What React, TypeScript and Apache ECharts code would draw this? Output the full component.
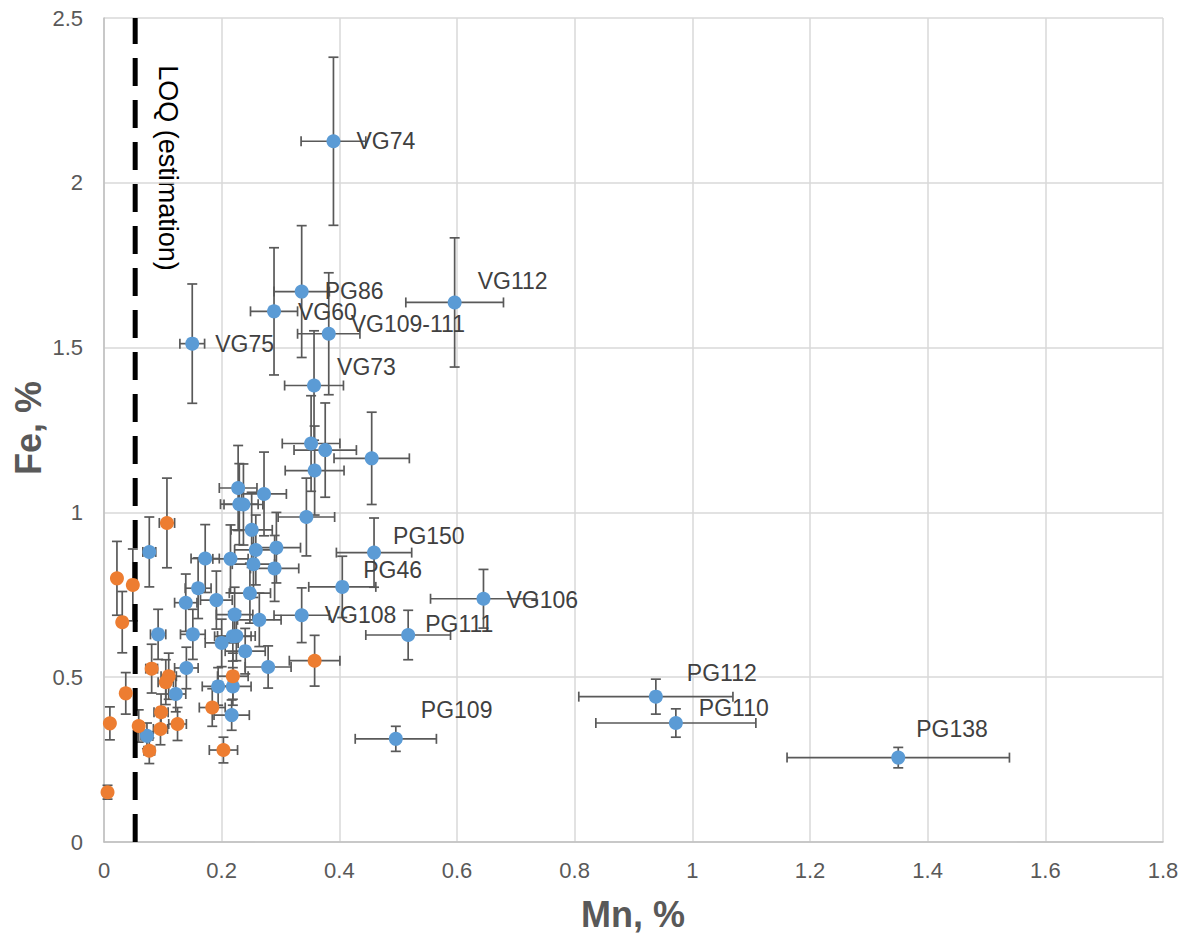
import React, { useEffect, useRef } from "react";
import * as echarts from "echarts";

// ---- Data ----
const xTicks = [0, 0.2, 0.4, 0.6, 0.8, 1, 1.2, 1.4, 1.6, 1.8];
const yTicks = [0, 0.5, 1, 1.5, 2, 2.5];
const LOQ = 0.053;

const blueLabels = [
  "VG74", "PG86", "VG60", "VG109-111", "VG112", "VG75", "VG73", "", "", "", "",
  "", "", "", "", "", "", "", "", "", "", "",
  "", "", "", "", "", "", "", "VG108", "PG150", "PG46", "",
  "", "", "", "", "", "", "", "", "", "", "",
  "", "", "VG106", "PG111", "PG112", "PG110", "PG138", "PG109",
];
const blueMn = [
  0.390, 0.336, 0.289, 0.382, 0.596, 0.150, 0.357, 0.352, 0.376, 0.358, 0.455,
  0.344, 0.228, 0.230, 0.237, 0.272, 0.251, 0.258, 0.293, 0.215, 0.172, 0.254,
  0.290, 0.160, 0.191, 0.139, 0.248, 0.222, 0.264, 0.336, 0.459, 0.405, 0.077,
  0.092, 0.151, 0.200, 0.219, 0.225, 0.240, 0.279, 0.140, 0.122, 0.194, 0.219,
  0.217, 0.073, 0.645, 0.517, 0.938, 0.972, 1.350, 0.496,
];
const blueFe = [
  2.126, 1.670, 1.610, 1.542, 1.637, 1.512, 1.385, 1.209, 1.189, 1.127, 1.164,
  0.986, 1.074, 1.025, 1.024, 1.056, 0.947, 0.886, 0.893, 0.859, 0.860, 0.843,
  0.830, 0.770, 0.734, 0.726, 0.755, 0.690, 0.674, 0.688, 0.878, 0.774, 0.880,
  0.630, 0.630, 0.604, 0.624, 0.625, 0.579, 0.531, 0.528, 0.449, 0.472, 0.472,
  0.385, 0.322, 0.738, 0.628, 0.441, 0.361, 0.256, 0.313,
];
const blueMnErr = [
  0.055, 0.047, 0.040, 0.053, 0.083, 0.021, 0.050, 0.049, 0.053, 0.050, 0.064,
  0.048, 0.032, 0.032, 0.033, 0.038, 0.035, 0.036, 0.041, 0.030, 0.024, 0.036,
  0.041, 0.022, 0.027, 0.019, 0.035, 0.031, 0.037, 0.047, 0.064, 0.057, 0.011,
  0.013, 0.021, 0.028, 0.031, 0.032, 0.034, 0.039, 0.020, 0.017, 0.027, 0.031,
  0.030, 0.010, 0.090, 0.072, 0.131, 0.136, 0.189, 0.069,
];
const blueFeErr = [
  0.255, 0.200, 0.193, 0.185, 0.196, 0.181, 0.166, 0.145, 0.143, 0.135, 0.140,
  0.118, 0.129, 0.123, 0.123, 0.127, 0.114, 0.106, 0.107, 0.103, 0.103, 0.101,
  0.100, 0.092, 0.088, 0.087, 0.091, 0.083, 0.081, 0.083, 0.105, 0.093, 0.106,
  0.076, 0.076, 0.072, 0.075, 0.075, 0.069, 0.064, 0.063, 0.054, 0.057, 0.057,
  0.046, 0.039, 0.089, 0.075, 0.053, 0.043, 0.031, 0.038,
];

const orangeMn = [
  0.107, 0.022, 0.049, 0.031, 0.358, 0.081, 0.110, 0.105, 0.037, 0.219,
  0.184, 0.097, 0.010, 0.059, 0.096, 0.125, 0.077, 0.203, 0.006,
];
const orangeFe = [
  0.968, 0.800, 0.780, 0.667, 0.550, 0.526, 0.503, 0.485, 0.451, 0.503,
  0.408, 0.394, 0.360, 0.352, 0.343, 0.358, 0.277, 0.279, 0.151,
];
const orangeMnErr = [
  0.013, 0.003, 0.006, 0.004, 0.043, 0.010, 0.013, 0.013, 0.004, 0.026,
  0.022, 0.012, 0.001, 0.007, 0.012, 0.015, 0.009, 0.024, 0.001,
];
const orangeFeErr = [
  0.136, 0.112, 0.109, 0.093, 0.077, 0.074, 0.070, 0.068, 0.063, 0.070,
  0.057, 0.055, 0.050, 0.049, 0.048, 0.050, 0.039, 0.039, 0.021,
];

// ---- label placement (pixel offsets from the marker centre to the label's left-middle) ----
const labelOffsets: Record<string, [number, number]> = {
  VG74: [23, 0],
  PG86: [23, -1],
  VG60: [24, 1],
  "VG109-111": [22, -10],
  VG112: [23, -21],
  VG75: [23, 0],
  VG73: [23, -19],
  PG150: [19, -17],
  PG46: [21, -17],
  VG106: [23, 1],
  VG108: [23, 0],
  PG111: [17, -11],
  PG112: [31, -24],
  PG110: [23, -15],
  PG138: [18, -29],
  PG109: [25, -29],
};

const FONT = '"Liberation Sans", Arial, sans-serif';
const BLUE = "#5b9bd5";
const ORANGE = "#ed7d31";
const ERR = "#595959";
const SYMBOL = 14;

function errRender(_params: any, api: any) {
  const x = api.value(0);
  const y = api.value(1);
  const ex = api.value(2);
  const ey = api.value(3);
  const l = api.coord([x - ex, y]);
  const r = api.coord([x + ex, y]);
  const t = api.coord([x, y + ey]);
  const b = api.coord([x, y - ey]);
  const c = 5;
  const style = { stroke: ERR, lineWidth: 1.7, fill: null };
  return {
    type: "group",
    children: [
      { type: "line", shape: { x1: l[0], y1: l[1], x2: r[0], y2: r[1] }, style },
      { type: "line", shape: { x1: l[0], y1: l[1] - c, x2: l[0], y2: l[1] + c }, style },
      { type: "line", shape: { x1: r[0], y1: r[1] - c, x2: r[0], y2: r[1] + c }, style },
      { type: "line", shape: { x1: t[0], y1: t[1], x2: b[0], y2: b[1] }, style },
      { type: "line", shape: { x1: t[0] - c, y1: t[1], x2: t[0] + c, y2: t[1] }, style },
      { type: "line", shape: { x1: b[0] - c, y1: b[1], x2: b[0] + c, y2: b[1] }, style },
    ],
  };
}

export default function App() {
  const ref = useRef<HTMLDivElement>(null);

  useEffect(() => {
    if (!ref.current) return;
    const chart = echarts.init(ref.current, null, { renderer: "svg" });

    const blueErrData = blueMn.map((x, i) => [x, blueFe[i], blueMnErr[i], blueFeErr[i]]);
    const orangeErrData = orangeMn.map((x, i) => [x, orangeFe[i], orangeMnErr[i], orangeFeErr[i]]);

    const blueData = blueMn.map((x, i) => {
      const name = blueLabels[i];
      if (!name) return { value: [x, blueFe[i]] };
      const off = labelOffsets[name] || [23, 0];
      return {
        value: [x, blueFe[i]],
        label: {
          show: true,
          formatter: name,
          position: [SYMBOL / 2 + off[0], SYMBOL / 2 + off[1]],
          align: "left",
          verticalAlign: "middle",
        },
      };
    });
    const orangeData = orangeMn.map((x, i) => [x, orangeFe[i]]);

    const option: any = {
      animation: false,
      backgroundColor: "#ffffff",
      grid: { left: 104, right: 22, top: 18, bottom: 92, containLabel: false },
      xAxis: {
        type: "value",
        min: xTicks[0],
        max: xTicks[xTicks.length - 1],
        interval: 0.2,
        axisLine: { show: true, lineStyle: { color: "#bfbfbf", width: 1.5 } },
        axisTick: { show: false },
        axisLabel: {
          color: "#595959",
          fontSize: 22,
          fontFamily: FONT,
          margin: 17,
          formatter: (v: number) => String(Math.round(v * 10) / 10),
        },
        splitLine: { show: true, lineStyle: { color: "#d9d9d9", width: 1.5 } },
      },
      yAxis: {
        type: "value",
        min: yTicks[0],
        max: yTicks[yTicks.length - 1],
        interval: 0.5,
        axisLine: { show: true, lineStyle: { color: "#bfbfbf", width: 1.5 } },
        axisTick: { show: false },
        axisLabel: {
          color: "#595959",
          fontSize: 22,
          fontFamily: FONT,
          margin: 21,
          formatter: (v: number) => String(Math.round(v * 10) / 10),
        },
        splitLine: { show: true, lineStyle: { color: "#d9d9d9", width: 1.5 } },
      },
      graphic: [
        {
          type: "text",
          x: 633,
          y: 914,
          style: {
            text: "Mn, %",
            font: `bold 36px ${FONT}`,
            fill: "#595959",
            align: "center",
            verticalAlign: "middle",
          },
        },
        {
          type: "text",
          x: 28,
          y: 428,
          rotation: Math.PI / 2,
          style: {
            text: "Fe, %",
            font: `bold 36px ${FONT}`,
            fill: "#595959",
            align: "center",
            verticalAlign: "middle",
          },
        },
        {
          type: "text",
          x: 168,
          y: 168,
          rotation: -Math.PI / 2,
          style: {
            text: "LOQ (estimation)",
            font: `27px ${FONT}`,
            fill: "#000000",
            align: "center",
            verticalAlign: "middle",
          },
        },
      ],
      series: [
        {
          type: "custom",
          name: "blueErr",
          renderItem: errRender,
          data: blueErrData,
          encode: { x: 0, y: 1 },
          z: 2,
          silent: true,
        },
        {
          type: "custom",
          name: "orangeErr",
          renderItem: errRender,
          data: orangeErrData,
          encode: { x: 0, y: 1 },
          z: 2,
          silent: true,
        },
        {
          type: "line",
          name: "LOQ",
          data: [[LOQ, yTicks[0]], [LOQ, yTicks[yTicks.length - 1]]],
          symbol: "none",
          lineStyle: { color: "#000000", width: 5, type: [28, 14] },
          z: 3,
          silent: true,
        },
        {
          type: "scatter",
          name: "blue",
          data: blueData,
          symbol: "circle",
          symbolSize: SYMBOL,
          itemStyle: { color: BLUE, opacity: 1 },
          label: {
            show: false,
            color: "#404040",
            fontSize: 23,
            lineHeight: 19,
            fontFamily: FONT,
          },
          z: 4,
        },
        {
          type: "scatter",
          name: "orange",
          data: orangeData,
          symbol: "circle",
          symbolSize: SYMBOL,
          itemStyle: { color: ORANGE, opacity: 1 },
          z: 5,
        },
      ],
    };

    chart.setOption(option);
    return () => chart.dispose();
  }, []);

  return (
    <div
      ref={ref}
      style={{ position: "absolute", left: 0, top: 0, width: 1185, height: 934, background: "#fff" }}
    />
  );
}
